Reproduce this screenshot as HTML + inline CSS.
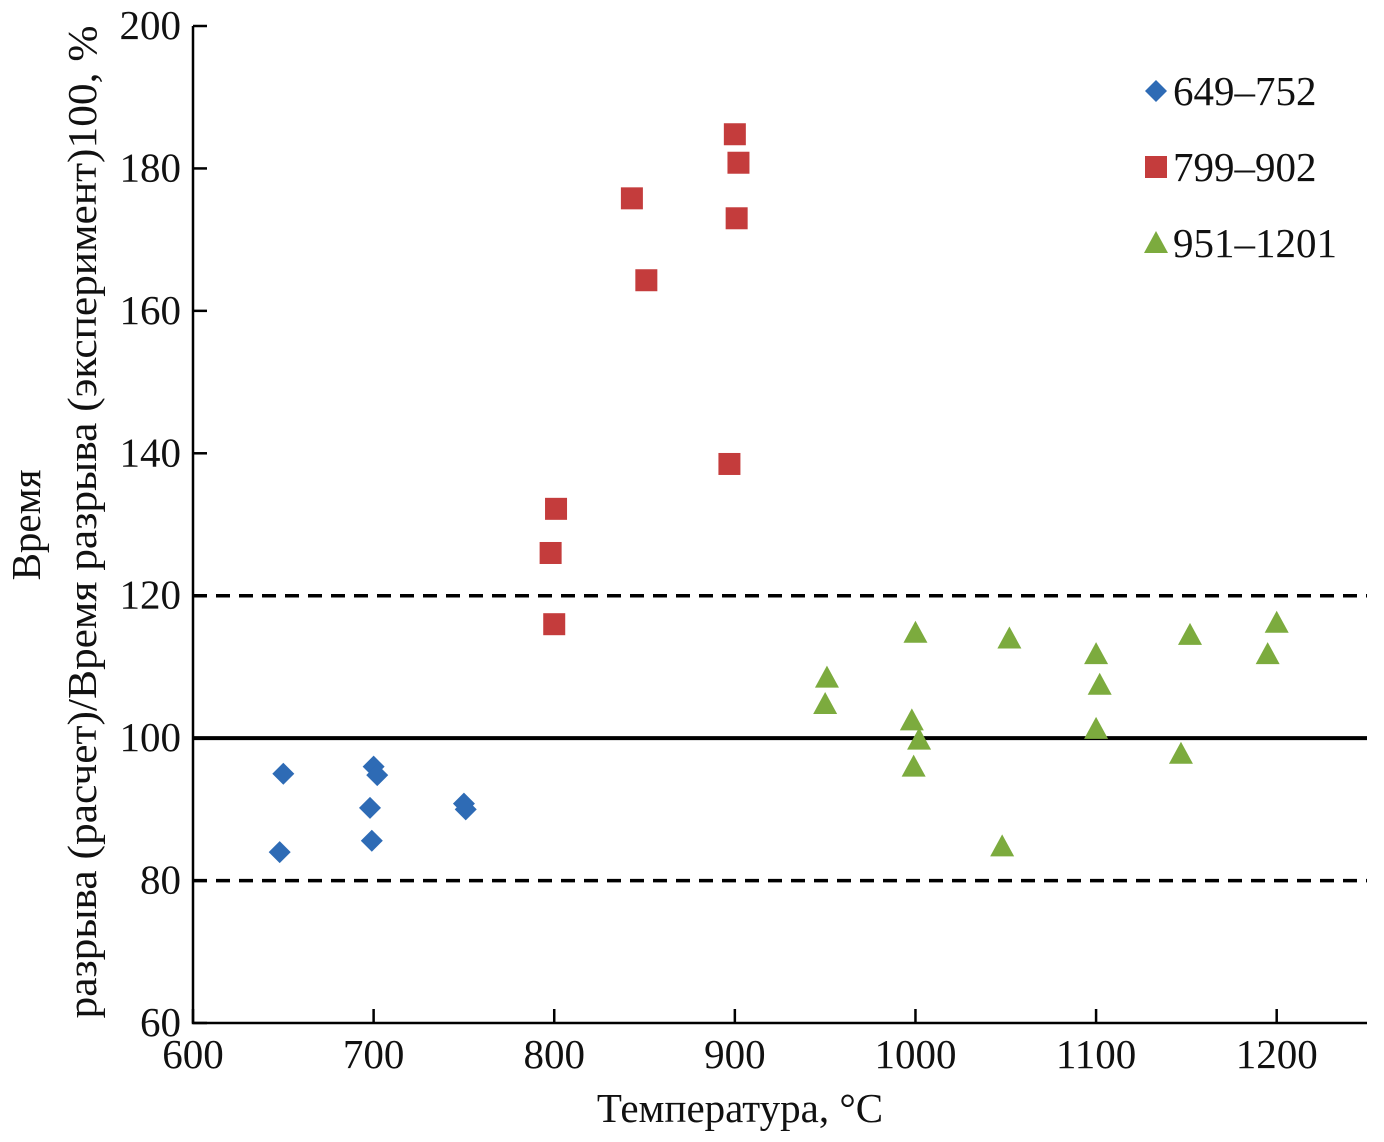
<!DOCTYPE html>
<html><head><meta charset="utf-8"><style>
body{margin:0;background:#fff;}
svg text{font-family:"Liberation Serif","DejaVu Serif",serif;fill:#111;}
</style></head><body>
<svg id="chart" width="1384" height="1137" viewBox="0 0 1384 1137" xmlns="http://www.w3.org/2000/svg" font-family="Liberation Serif, serif"></svg>
<script>
const xTicks=[600,700,800,900,1000,1100,1200];
const yTicks=[60,80,100,120,140,160,180,200];
const blueX=[650,648,700,702,698,699,750,751];
const blueY=[95,84,96,94.8,90.2,85.6,90.8,90];
const redX=[900,902,843,901,851,897,801,798,800];
const redY=[184.8,180.8,175.8,173,164.3,138.5,132.2,126,116];
const greenX=[951,950,1000,998,1002,999,1052,1048,1100,1102,1100,1152,1147,1200,1195];
const greenY=[108.5,104.8,114.8,102.5,99.8,96,114,84.8,111.8,107.5,101.3,114.5,97.8,116.2,111.8];
const refLines=[80,100,120];
const seriesNames=["649–752","799–902","951–1201"];

const svg=document.getElementById('chart');
const NS='http://www.w3.org/2000/svg';
const X0=193,X1=1367,Y0=1023,Y1=26;
const xs=v=>X0+(v-600)*(X1-X0)/650;
const ys=v=>Y0-(v-60)*(Y0-Y1)/140;
function mk(tag,attrs,parent){const e=document.createElementNS(NS,tag);for(const k in attrs)e.setAttribute(k,attrs[k]);if(tag==='text')e.setAttribute('font-family','Liberation Serif, serif');(parent||svg).appendChild(e);return e;}

refLines.forEach(v=>{
  const l=mk('line',{x1:X0,x2:X1,y1:ys(v),y2:ys(v),stroke:'#000','stroke-width':v===100?4:3.5,'stroke-dasharray':v===100?'':'14,9'});
  
  
});
const ax=mk('path',{d:`M${X0},${Y1} V${Y0} H${X1}`,fill:'none',stroke:'#000','stroke-width':2.5});


xTicks.forEach(v=>{
  const t=mk('line',{x1:xs(v),x2:xs(v),y1:Y0,y2:Y0-14,stroke:'#000','stroke-width':2.5});
  
  
  const tx=mk('text',{x:xs(v),y:1068,'text-anchor':'middle','font-size':41});
  tx.textContent=v;
  
  
});
yTicks.forEach(v=>{
  const t=mk('line',{x1:X0,x2:X0+14,y1:ys(v),y2:ys(v),stroke:'#000','stroke-width':2.5});
  
  
  const tx=mk('text',{x:181,y:ys(v)+13,'text-anchor':'end','font-size':41});
  tx.textContent=v;
  
  
});
const xt=mk('text',{x:740,y:1122,'text-anchor':'middle','font-size':41});
xt.textContent='Температура, °C';


const yt=mk('text',{transform:'translate(40,525) rotate(-90)','text-anchor':'middle','font-size':41});
yt.textContent='Время';


const yt2=mk('text',{transform:'translate(96,522) rotate(-90)','text-anchor':'middle','font-size':41,textLength:993,lengthAdjust:'spacingAndGlyphs'});
yt2.textContent='разрыва (расчет)/Время разрыва (эксперимент)100, %';



function diamond(cx,cy,c,n){const p=mk('path',{d:`M${cx},${cy-11} L${cx+11},${cy} L${cx},${cy+11} L${cx-11},${cy} Z`,fill:c});}
function square(cx,cy,c,n){const p=mk('rect',{x:cx-11,y:cy-11,width:22,height:22,fill:c});}
function tri(cx,cy,c,n){const p=mk('path',{d:`M${cx},${cy-12} L${cx+12},${cy+10} L${cx-12},${cy+10} Z`,fill:c});}
const B='#2e6bb5',R='#c43c3c',G='#7cab3e';
blueX.forEach((v,i)=>diamond(xs(v),ys(blueY[i]),B,'point-649-752'));
redX.forEach((v,i)=>square(xs(v),ys(redY[i]),R,'point-799-902'));
greenX.forEach((v,i)=>tri(xs(v),ys(greenY[i]),G,'point-951-1201'));

const shapes=[diamond,square,tri],cols=[B,R,G];
seriesNames.forEach((n,i)=>{
  const y=91+i*76;
  shapes[i](1156,y,cols[i],'legend-marker');
  const t=mk('text',{x:1173,y:y+14,'font-size':41});
  t.textContent=n;
  
  
});
</script>
</body></html>
